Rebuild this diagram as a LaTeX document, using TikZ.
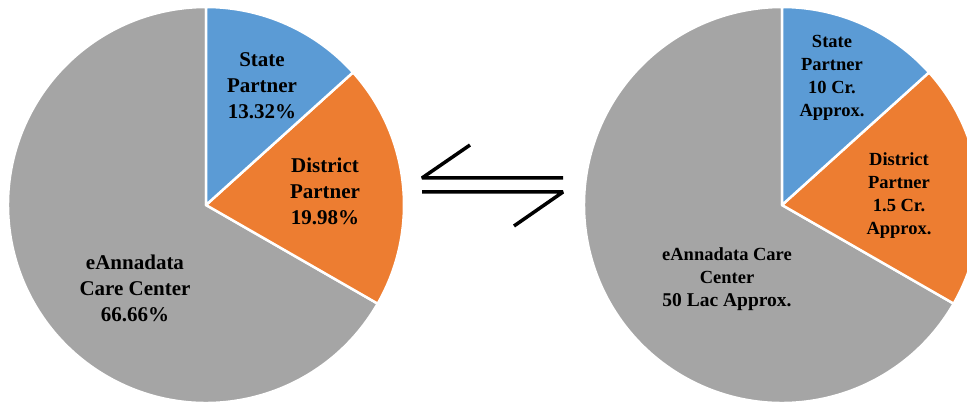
\documentclass[tikz,border=0pt]{standalone}
\usepackage{fontspec}
\setmainfont{Liberation Serif}
\definecolor{sblue}{HTML}{5B9BD5}
\definecolor{sorange}{HTML}{ED7D31}
\definecolor{sgrey}{HTML}{A5A5A5}
\begin{document}
\begin{tikzpicture}[x=1pt,y=1pt,
  slice/.style={draw=white,line width=2.5pt,line join=round},
  lbig/.style={align=center,font=\fontsize{21}{26}\selectfont\bfseries,inner sep=0pt},
  lsmall/.style={align=center,font=\fontsize{18.5}{23}\selectfont\bfseries,inner sep=0pt},
  arr/.style={line width=3.5pt,black,line join=bevel}]
\useasboundingbox (0,0) rectangle (967,405);
\clip (0,0) rectangle (967,405);
% left pie
\coordinate (L) at (206,200);
\fill[sgrey,slice] (L) -- ++(-29.88:198) arc (-29.88:-270:198) -- cycle;
\fill[sorange,slice] (L) -- ++(42.05:198) arc (42.05:-29.88:198) -- cycle;
\fill[sblue,slice] (L) -- ++(90:198) arc (90:42.05:198) -- cycle;
% right pie
\coordinate (R) at (782,200);
\fill[sgrey,slice] (R) -- ++(-29.88:198) arc (-29.88:-270:198) -- cycle;
\fill[sorange,slice] (R) -- ++(42.05:198) arc (42.05:-29.88:198) -- cycle;
\fill[sblue,slice] (R) -- ++(90:198) arc (90:42.05:198) -- cycle;
% left labels
\node[lbig] (lstate) at (262,319) {State\\Partner\\13.32\%};
\node[lbig] (ldist) at (325,214) {District\\Partner\\19.98\%};
\node[lbig] (lcare) at (135,117) {eAnnadata\\Care Center\\66.66\%};
% right labels
\node[lsmall] (rstate) at (832,327) {State\\Partner\\10 Cr.\\Approx.};
\node[lsmall] (rdist) at (899,209) {District\\Partner\\1.5 Cr.\\Approx.};
\node[lsmall] (rcare) at (727,126) {eAnnadata Care\\Center\\{\fontsize{19.5}{23}\selectfont 50 Lac Approx.}};
% arrows
\coordinate (a1) at (422,227);
\coordinate (a2) at (563,227);
\coordinate (a3) at (470,260);
\coordinate (b1) at (422,213);
\coordinate (b2) at (563,213);
\coordinate (b3) at (514,179);
\draw[arr] (a3) -- (a1) -- (a2);
\draw[arr] (b1) -- (b2) -- (b3);
\end{tikzpicture}
\end{document}
